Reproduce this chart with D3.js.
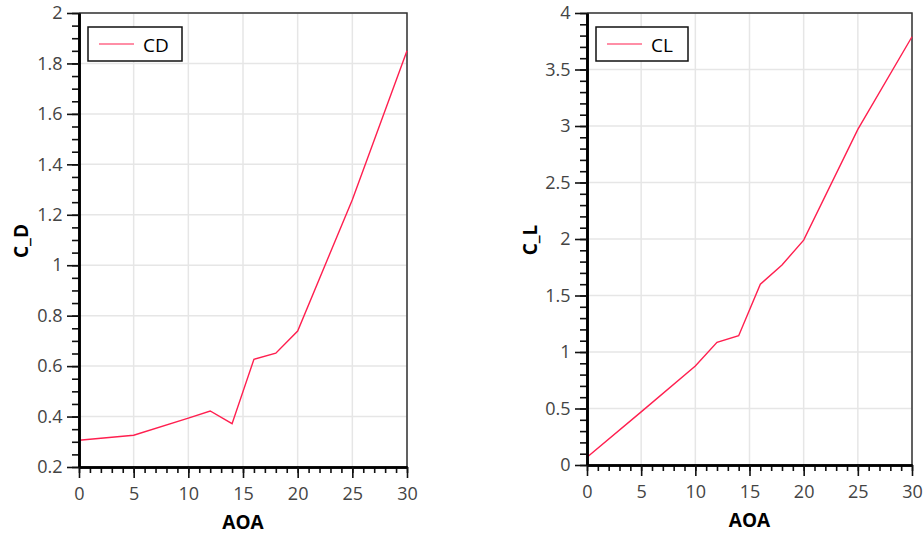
<!DOCTYPE html>
<html>
<head>
<meta charset="utf-8">
<script src="https://cdn.jsdelivr.net/npm/d3@7"></script>
<style>
  html, body { margin: 0; padding: 0; background: #fff; }
  svg { display: block; }
  text { font-family: "Open Sans", "Noto Sans", sans-serif; }
</style>
</head>
<body>
<svg id="chart" width="923" height="535"></svg>
<script>
// Angle of attack samples shared by both coefficient curves
const aoa = [0, 5, 10, 12, 14, 16, 18, 20, 25, 30];
// Drag coefficient
const cdValues = [0.306, 0.326, 0.394, 0.422, 0.372, 0.627, 0.651, 0.739, 1.26, 1.85];
// Lift coefficient
const clValues = [0.068, 0.47, 0.876, 1.086, 1.144, 1.60, 1.77, 1.99, 2.97, 3.79];

// Tick values
const xTicks = [0, 5, 10, 15, 20, 25, 30];
const cdTicks = [0.2, 0.4, 0.6, 0.8, 1, 1.2, 1.4, 1.6, 1.8, 2];
const clTicks = [0, 0.5, 1, 1.5, 2, 2.5, 3, 3.5, 4];

const lineColor = "#ff1f4f";
const svg = d3.select("#chart");

function range(a, b, step) {
  const out = [];
  const n = Math.round((b - a) / step);
  for (let i = 0; i <= n; i++) out.push(+(a + i * step).toFixed(4));
  return out;
}

function panel(cfg) {
  const x = d3.scaleLinear().domain([0, 30]).range([cfg.left, cfg.right]);
  const y = d3.scaleLinear().domain(cfg.yDomain).range([cfg.bottom, cfg.top]);
  const g = svg.append("g");

  // grid
  g.append("g").selectAll("line").data(cfg.yTicks.slice(1)).join("line")
    .attr("x1", cfg.left).attr("x2", cfg.right)
    .attr("y1", d => y(d)).attr("y2", d => y(d))
    .attr("stroke", "#e6e6e6").attr("stroke-width", 1.5);
  g.append("g").selectAll("line").data(xTicks.slice(1)).join("line")
    .attr("x1", d => x(d)).attr("x2", d => x(d))
    .attr("y1", cfg.top).attr("y2", cfg.bottom)
    .attr("stroke", "#e6e6e6").attr("stroke-width", 1.5);

  // frame (top and right)
  g.append("path")
    .attr("d", `M${cfg.left},${cfg.top}H${cfg.right}V${cfg.bottom}`)
    .attr("fill", "none").attr("stroke", "#333").attr("stroke-width", 1.5);

  // data line
  const line = d3.line().x((d, i) => x(aoa[i])).y(d => y(d));
  g.append("path").datum(cfg.values)
    .attr("d", line)
    .attr("fill", "none").attr("stroke", lineColor).attr("stroke-width", 1.4);

  // minor ticks
  const yMinor = d3.axisLeft(y).tickValues(range(cfg.yDomain[0], cfg.yDomain[1], cfg.yMinorStep))
    .tickSize(7).tickSizeOuter(0).tickFormat("");
  const xMinor = d3.axisBottom(x).tickValues(range(0, 30, 1))
    .tickSize(6).tickSizeOuter(0).tickFormat("");
  g.append("g").attr("transform", `translate(${cfg.left},0)`).call(yMinor);
  g.append("g").attr("transform", `translate(0,${cfg.bottom})`).call(xMinor);

  // major ticks with labels
  const yAxis = d3.axisLeft(y).tickValues(cfg.yTicks).tickSize(12).tickSizeOuter(0)
    .tickPadding(4.5).tickFormat(d3.format("~g"));
  const xAxis = d3.axisBottom(x).tickValues(xTicks).tickSize(11).tickSizeOuter(0)
    .tickPadding(9.5).tickFormat(d3.format("~g"));
  const ya = g.append("g").attr("transform", `translate(${cfg.left},0)`).call(yAxis);
  const xa = g.append("g").attr("transform", `translate(0,${cfg.bottom})`).call(xAxis);

  g.selectAll(".tick line").attr("stroke", "#111").attr("stroke-width", 1.6);
  g.selectAll(".domain").attr("stroke", "#000").attr("stroke-width", 2.6);
  [ya, xa].forEach(a => a.selectAll("text")
    .attr("fill", "#444").style("font-size", "18px")
    .style("font-family", '"Open Sans", sans-serif'));

  // axis titles
  g.append("text")
    .attr("x", (cfg.left + cfg.right) / 2).attr("y", cfg.xTitleY)
    .attr("text-anchor", "middle")
    .style("font-size", "19px").style("font-weight", "bold").attr("fill", "#000")
    .text("AOA");
  g.append("text")
    .attr("transform", `translate(${cfg.yTitleX},${(cfg.top + cfg.bottom) / 2 + 1}) rotate(-90)`)
    .attr("text-anchor", "middle")
    .style("font-size", "19px").style("font-weight", "bold").attr("fill", "#000")
    .text(cfg.yTitle);

  // legend
  const lg = g.append("g").attr("transform", `translate(${cfg.left + 9},27)`);
  lg.append("rect").attr("width", cfg.legendW).attr("height", 34)
    .attr("fill", "#fff").attr("stroke", "#111").attr("stroke-width", 1.5);
  lg.append("line").attr("x1", 11).attr("x2", 46).attr("y1", 17).attr("y2", 17)
    .attr("stroke", lineColor).attr("stroke-width", 1.2);
  lg.append("text").attr("x", 55).attr("y", 24.5)
    .style("font-size", "19px").attr("fill", "#000")
    .text(cfg.name);
}

panel({
  left: 79, right: 407, top: 13, bottom: 467,
  yDomain: [0.2, 2], yTicks: cdTicks, yMinorStep: 0.05,
  values: cdValues, name: "CD", yTitle: "C_D",
  yTitleX: 28, xTitleY: 529, legendW: 94
});

panel({
  left: 587, right: 912, top: 13, bottom: 465,
  yDomain: [0, 4], yTicks: clTicks, yMinorStep: 0.1,
  values: clValues, name: "CL", yTitle: "C_L",
  yTitleX: 537, xTitleY: 527, legendW: 92
});
</script>
</body>
</html>
